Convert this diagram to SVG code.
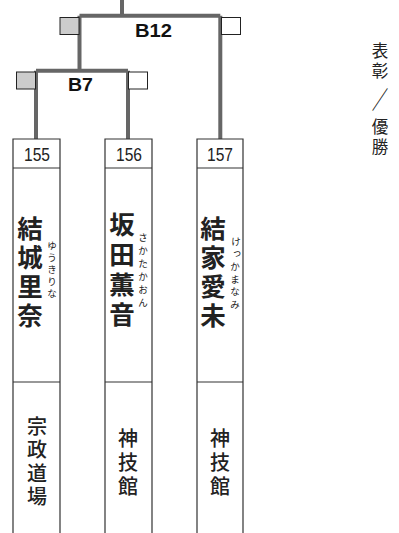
<svg xmlns="http://www.w3.org/2000/svg" width="399" height="533" viewBox="0 0 399 533">
<style>
.ln{stroke:#666;stroke-width:4;fill:none;stroke-linecap:butt}
.sqg{fill:#ccc;stroke:#222;stroke-width:1}
.sqw{fill:#fff;stroke:#222;stroke-width:1}
.bx{fill:#fff;stroke:#333;stroke-width:1.2}
.dv{stroke:#333;stroke-width:1.2}
.lbl{font-family:"Liberation Sans",Arial,sans-serif;font-weight:bold;font-size:18px;fill:#111}
.num{font-family:"Liberation Sans",Arial,sans-serif;font-size:18px;fill:#222;text-anchor:middle}
.nm{font-family:"Noto Sans CJK JP",sans-serif;font-weight:bold;font-size:25.5px;fill:#222;text-anchor:middle;dominant-baseline:central}
.fu{font-family:"Noto Sans CJK JP",sans-serif;font-size:9.5px;fill:#222;text-anchor:middle;dominant-baseline:central}
.dj{font-family:"Noto Sans CJK JP",sans-serif;font-weight:500;font-size:20px;fill:#222;text-anchor:middle;dominant-baseline:central}
.aw{font-family:"Noto Sans CJK JP",sans-serif;font-size:16.5px;fill:#222;text-anchor:middle;dominant-baseline:central}
</style>
<rect width="399" height="533" fill="#fff"/>
<g id="connectors">
<path class="ln" d="M122,0 V15.7 M79.5,15.7 H220.3 M79.5,15.7 V70.8 M220.3,15.7 V139 M36,70.8 H128 M36,70.8 V139 M128,70.8 V139"/>
</g>
<g id="B12">
<rect class="sqg" x="60" y="17.5" width="19" height="17"/>
<rect class="sqw" x="221.5" y="17.5" width="19" height="17"/>
<text class="lbl" x="135" y="37" textLength="37" lengthAdjust="spacingAndGlyphs">B12</text>
</g>
<g id="B7">
<rect class="sqg" x="16.5" y="72" width="19" height="17"/>
<rect class="sqw" x="128.5" y="72" width="19" height="17"/>
<text class="lbl" x="68" y="91" textLength="25" lengthAdjust="spacingAndGlyphs">B7</text>
</g>
<g id="p155">
<path class="bx" d="M13,533 V139 H60 V533"/>
<line class="dv" x1="13" y1="168" x2="60" y2="168"/>
<line class="dv" x1="13" y1="382" x2="60" y2="382"/>
<text class="num" x="37" y="160.5" textLength="26" lengthAdjust="spacingAndGlyphs">155</text>
<text class="nm" x="30" y="226">結</text>
<text class="nm" x="30" y="255">城</text>
<text class="nm" x="30" y="284">里</text>
<text class="nm" x="30" y="313">奈</text>
<text class="fu" x="52" y="245">ゆ</text>
<text class="fu" x="52" y="257">う</text>
<text class="fu" x="52" y="269">き</text>
<text class="fu" x="52" y="281">り</text>
<text class="fu" x="52" y="293">な</text>
<text class="dj" x="37" y="425">宗</text>
<text class="dj" x="37" y="448.5">政</text>
<text class="dj" x="37" y="472">道</text>
<text class="dj" x="37" y="495.5">場</text>
</g>
<g id="p156">
<path class="bx" d="M105,533 V139 H152 V533"/>
<line class="dv" x1="105" y1="168" x2="152" y2="168"/>
<line class="dv" x1="105" y1="382" x2="152" y2="382"/>
<text class="num" x="129" y="160.5" textLength="26" lengthAdjust="spacingAndGlyphs">156</text>
<text class="nm" x="122" y="222">坂</text>
<text class="nm" x="122" y="252">田</text>
<text class="nm" x="122" y="282">薫</text>
<text class="nm" x="122" y="312">音</text>
<text class="fu" x="143" y="237">さ</text>
<text class="fu" x="143" y="250">か</text>
<text class="fu" x="143" y="263">た</text>
<text class="fu" x="143" y="276">か</text>
<text class="fu" x="143" y="289">お</text>
<text class="fu" x="143" y="302">ん</text>
<text class="dj" x="128" y="437">神</text>
<text class="dj" x="128" y="461">技</text>
<text class="dj" x="128" y="485">館</text>
</g>
<g id="p157">
<path class="bx" d="M197,533 V139 H243 V533"/>
<line class="dv" x1="197" y1="168" x2="243" y2="168"/>
<line class="dv" x1="197" y1="382" x2="243" y2="382"/>
<text class="num" x="220" y="160.5" textLength="26" lengthAdjust="spacingAndGlyphs">157</text>
<text class="nm" x="213" y="226">結</text>
<text class="nm" x="213" y="255">家</text>
<text class="nm" x="213" y="284">愛</text>
<text class="nm" x="213" y="313">未</text>
<text class="fu" x="236" y="241">け</text>
<text class="fu" x="237" y="252">っ</text>
<text class="fu" x="235" y="266">か</text>
<text class="fu" x="235" y="278.5">ま</text>
<text class="fu" x="235" y="291">な</text>
<text class="fu" x="235" y="303.5">み</text>
<text class="dj" x="220" y="437">神</text>
<text class="dj" x="220" y="461">技</text>
<text class="dj" x="220" y="485">館</text>
</g>
<g id="award">
<text class="aw" x="380" y="50">表</text>
<text class="aw" x="380" y="70">彰</text>
<text class="aw" x="380" y="98" transform="translate(380,98) scale(1,1.5) translate(-380,-98)">／</text>
<text class="aw" x="380" y="126">優</text>
<text class="aw" x="380" y="146">勝</text>
</g>
</svg>
